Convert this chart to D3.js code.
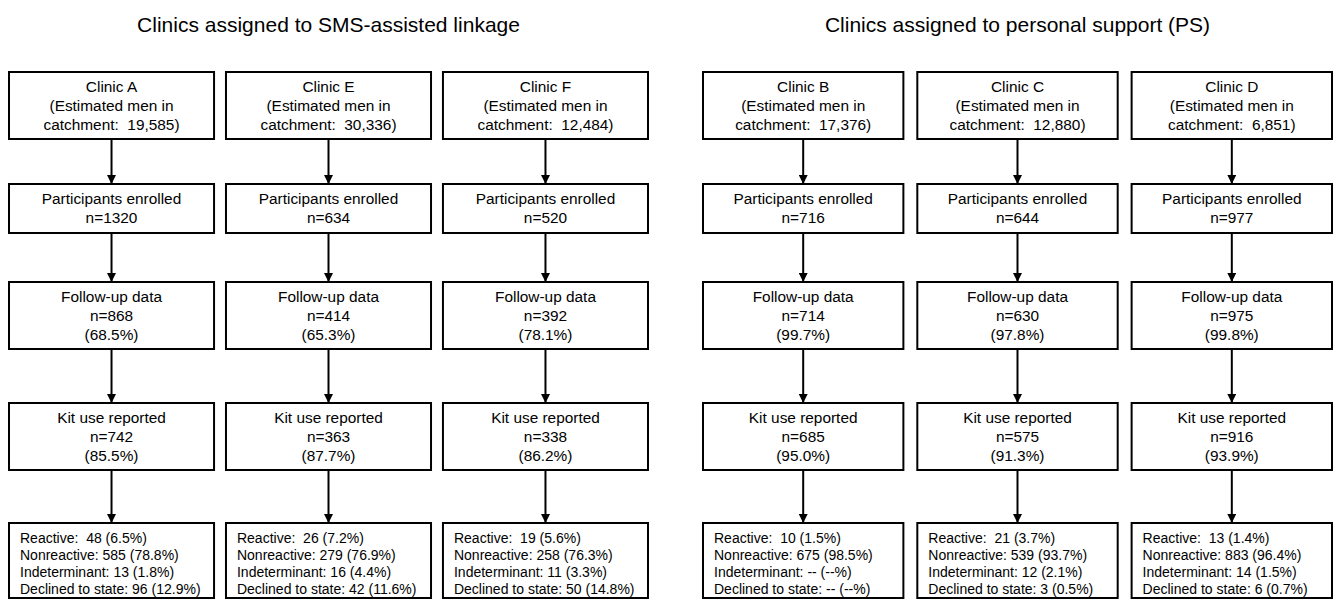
<!DOCTYPE html>
<html>
<head>
<meta charset="utf-8">
<script src="https://cdn.jsdelivr.net/npm/d3@7"></script>
<style>
  body { margin: 0; background: #fff; }
  svg text { font-family: "Liberation Sans", Arial, sans-serif; fill: #000; white-space: pre; }
</style>
</head>
<body>
<div id="chart"></div>
<script>
// chart data
const groupTitles = ["Clinics assigned to SMS-assisted linkage", "Clinics assigned to personal support (PS)"];
const clinics = [["A", "E", "F"], ["B", "C", "D"]];
const catchment = [["19,585", "30,336", "12,484"], ["17,376", "12,880", "6,851"]];
const enrolled = [[1320, 634, 520], [716, 644, 977]];
const followUp = [[868, 414, 392], [714, 630, 975]];
const followPct = [["68.5", "65.3", "78.1"], ["99.7", "97.8", "99.8"]];
const kitUse = [[742, 363, 338], [685, 575, 916]];
const kitPct = [["85.5", "87.7", "86.2"], ["95.0", "91.3", "93.9"]];
const reactive = [["48 (6.5%)", "26 (7.2%)", "19 (5.6%)"], ["10 (1.5%)", "21 (3.7%)", "13 (1.4%)"]];
const nonreactive = [["585 (78.8%)", "279 (76.9%)", "258 (76.3%)"], ["675 (98.5%)", "539 (93.7%)", "883 (96.4%)"]];
const indeterminant = [["13 (1.8%)", "16 (4.4%)", "11 (3.3%)"], ["-- (--%)", "12 (2.1%)", "14 (1.5%)"]];
const declined = [["96 (12.9%)", "42 (11.6%)", "50 (14.8%)"], ["-- (--%)", "3 (0.5%)", "6 (0.7%)"]];

const W = 1339, H = 600;
const svg = d3.select("#chart").append("svg")
    .attr("width", W)
    .attr("height", H);

// horizontal layout of the two groups
const groupRanges = [[9, 648], [703, 1332]];
// rows of boxes: top and height
const rows = [
    {top: 72, h: 67},
    {top: 184, h: 49},
    {top: 282, h: 67},
    {top: 403, h: 67},
    {top: 523, h: 75}
];
const lineH = 19;

svg.append("defs").append("marker")
    .attr("id", "arrow")
    .attr("viewBox", "0 0 10 10")
    .attr("refX", 10)
    .attr("refY", 5)
    .attr("markerWidth", 4.5)
    .attr("markerHeight", 4.5)
    .attr("markerUnits", "strokeWidth")
    .attr("orient", "auto")
  .append("path")
    .attr("d", "M0,0 L10,5 L0,10 Z")
    .attr("fill", "#000");

groupTitles.forEach((title, g) => {
    const x = d3.scaleBand()
        .domain(clinics[g])
        .range(groupRanges[g])
        .paddingInner(g === 0 ? 0.055 : 0.065);

    svg.append("text")
        .attr("x", (groupRanges[g][0] + groupRanges[g][1]) / 2)
        .attr("y", 32)
        .attr("text-anchor", "middle")
        .style("font-size", "21px")
        .text(title);

    clinics[g].forEach((c, i) => {
        const x0 = x(c), bw = x.bandwidth(), cx = x0 + bw / 2;

        const texts = [
            [`Clinic ${c}`, "(Estimated men in", `catchment:  ${catchment[g][i]})`],
            ["Participants enrolled", `n=${enrolled[g][i]}`],
            ["Follow-up data", `n=${followUp[g][i]}`, `(${followPct[g][i]}%)`],
            ["Kit use reported", `n=${kitUse[g][i]}`, `(${kitPct[g][i]}%)`]
        ];

        rows.forEach((r, k) => {
            // arrow from previous box
            if (k > 0) {
                const prev = rows[k - 1];
                svg.append("line")
                    .attr("x1", cx).attr("x2", cx)
                    .attr("y1", prev.top + prev.h)
                    .attr("y2", r.top)
                    .attr("stroke", "#000")
                    .attr("stroke-width", 2)
                    .attr("marker-end", "url(#arrow)");
            }

            svg.append("rect")
                .attr("x", x0)
                .attr("y", r.top)
                .attr("width", bw)
                .attr("height", r.h)
                .attr("fill", "#fff")
                .attr("stroke", "#000")
                .attr("stroke-width", 2);

            if (k < 4) {
                const lines = texts[k];
                const mid = r.top + r.h / 2;
                lines.forEach((t, j) => {
                    svg.append("text")
                        .attr("x", cx)
                        .attr("y", mid + (j - (lines.length - 1) / 2) * lineH)
                        .attr("dy", "0.35em")
                        .attr("text-anchor", "middle")
                        .style("font-size", "15.4px")
                        .text(t);
                });
            } else {
                const lines = [
                    `Reactive:  ${reactive[g][i]}`,
                    `Nonreactive: ${nonreactive[g][i]}`,
                    `Indeterminant: ${indeterminant[g][i]}`,
                    `Declined to state: ${declined[g][i]}`
                ];
                lines.forEach((t, j) => {
                    svg.append("text")
                        .attr("x", x0 + 11)
                        .attr("y", r.top + 15 + j * 17)
                        .attr("dy", "0.35em")
                        .style("font-size", "14px")
                        .text(t);
                });
            }
        });
    });
});
</script>
</body>
</html>
